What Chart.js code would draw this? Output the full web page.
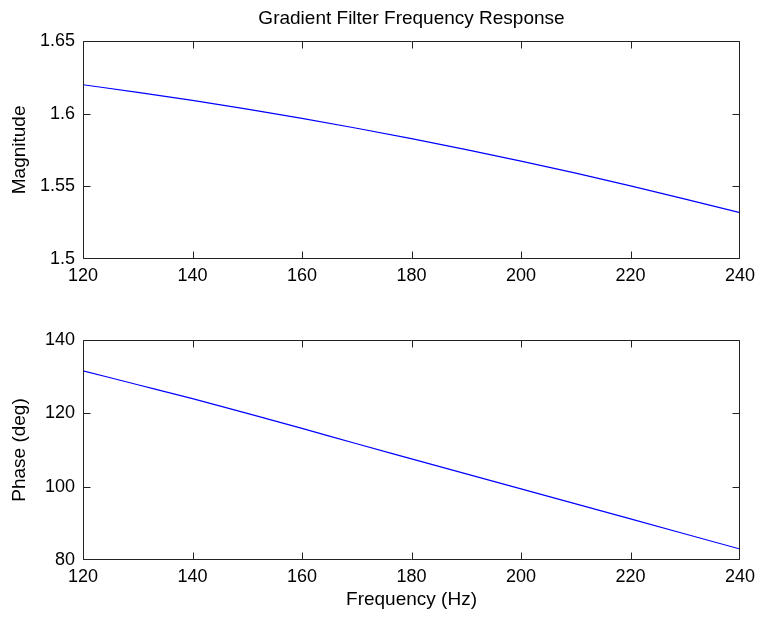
<!DOCTYPE html>
<html>
<head>
<meta charset="utf-8">
<script src="https://cdn.jsdelivr.net/npm/chart.js@4/dist/chart.umd.min.js"></script>
<style>
  html, body { margin: 0; padding: 0; background: #fff; }
  #wrap { position: relative; width: 758px; height: 618px; background: #fff; }
  .pane { position: absolute; left: 0; width: 758px; }
  #top { top: 0; height: 300px; }
  #bot { top: 300px; height: 318px; }
</style>
</head>
<body>
<div id="wrap">
  <div class="pane" id="top"><canvas id="magChart"></canvas></div>
  <div class="pane" id="bot"><canvas id="phaseChart"></canvas></div>
</div>
<script>
// Frequency points (Hz)
const freqHz = [120, 130, 140, 150, 160, 170, 180, 190, 200, 210, 220, 230, 240];
// Magnitude of the gradient filter response
const magnitude = [1.6198, 1.6146, 1.6090, 1.6030, 1.5967, 1.5899, 1.5828, 1.5752, 1.5673, 1.5590, 1.5503, 1.5412, 1.5318];
// Phase of the response (degrees)
const phaseDeg = [131.6, 127.8, 124.0, 120.0, 115.9, 111.7, 107.6, 103.5, 99.4, 95.3, 91.2, 87.1, 83.0];

// Tick labels
const freqTicks = [120, 140, 160, 180, 200, 220, 240];
const magTicks = [1.5, 1.55, 1.6, 1.65];
const phaseTicks = [80, 100, 120, 140];

const FAMILY = "'Liberation Sans', Arial, sans-serif";
const AXIS_COLOR = '#222';
const TICK_LEN = 7;

Chart.defaults.font.family = FAMILY;
Chart.defaults.font.size = 18;
Chart.defaults.color = '#000';

// Box around the plot area with inward tick marks on all four sides
const boxTicks = {
  id: 'boxTicks',
  afterDraw(chart) {
    const { ctx, chartArea: a, scales } = chart;
    const L = Math.round(a.left) + 0.5, R = Math.round(a.right) - 0.5;
    const T = Math.round(a.top) + 0.5, B = Math.round(a.bottom) - 0.5;
    const clamp = (v, lo, hi) => Math.min(Math.max(v, lo), hi);
    ctx.save();
    ctx.strokeStyle = AXIS_COLOR;
    ctx.lineWidth = 1;
    ctx.beginPath();
    ctx.rect(L, T, R - L, B - T);
    scales.x.ticks.forEach(t => {
      const px = clamp(Math.round(scales.x.getPixelForValue(t.value)) + 0.5, L, R);
      ctx.moveTo(px, B); ctx.lineTo(px, B - TICK_LEN);
      ctx.moveTo(px, T); ctx.lineTo(px, T + TICK_LEN);
    });
    scales.y.ticks.forEach(t => {
      const py = clamp(Math.round(scales.y.getPixelForValue(t.value)) + 0.5, T, B);
      ctx.moveTo(L, py); ctx.lineTo(L + TICK_LEN, py);
      ctx.moveTo(R, py); ctx.lineTo(R - TICK_LEN, py);
    });
    ctx.stroke();
    ctx.restore();
  }
};

function makeChart(canvasId, yValues, yTicks, yMin, yMax, yTitle, opts) {
  return new Chart(document.getElementById(canvasId), {
    type: 'line',
    data: {
      datasets: [{
        data: freqHz.map((f, i) => ({ x: f, y: yValues[i] })),
        borderColor: '#0000ff',
        borderWidth: 1.2,
        pointRadius: 0,
        cubicInterpolationMode: 'monotone',
        fill: false
      }]
    },
    options: {
      responsive: true,
      maintainAspectRatio: false,
      animation: false,
      layout: { padding: { left: 0, right: 18, top: opts.padTop, bottom: 0 } },
      plugins: {
        legend: { display: false },
        tooltip: { enabled: false },
        title: opts.title ? {
          display: true,
          fullSize: false,
          text: opts.title,
          color: '#000',
          font: { size: 19, weight: 'normal' },
          padding: { top: 7, bottom: 11 }
        } : { display: false }
      },
      scales: {
        x: {
          type: 'linear',
          min: 120, max: 240,
          grid: { display: false, drawTicks: false },
          border: { display: false },
          afterBuildTicks: s => { s.ticks = freqTicks.map(v => ({ value: v })); },
          afterFit: s => { s.height = opts.xHeight; s.paddingLeft = 0; s.paddingRight = 0; },
          ticks: { padding: 6, maxRotation: 0, autoSkip: false, callback: v => String(v) },
          title: opts.xTitle ? {
            display: true, text: opts.xTitle, color: '#000',
            font: { size: 19 },
            padding: { top: 0, bottom: 7 }
          } : { display: false }
        },
        y: {
          type: 'linear',
          min: yMin, max: yMax,
          grid: { display: false, drawTicks: false },
          border: { display: false },
          afterBuildTicks: s => { s.ticks = yTicks.map(v => ({ value: v })); },
          afterFit: s => { s.width = 83; s.paddingTop = 0; s.paddingBottom = 0; },
          ticks: { padding: 8, autoSkip: false, callback: v => String(v) },
          title: { display: true, text: yTitle, color: '#000', font: { size: 19 }, padding: { top: 8, bottom: 0 } }
        }
      }
    },
    plugins: [boxTicks]
  });
}

makeChart('magChart', magnitude, magTicks, 1.5, 1.65, 'Magnitude', {
  title: 'Gradient Filter Frequency Response', padTop: 0, xHeight: 41
});
makeChart('phaseChart', phaseDeg, phaseTicks, 80, 140, 'Phase (deg)', {
  padTop: 40, xHeight: 58, xTitle: 'Frequency (Hz)'
});
</script>
</body>
</html>
